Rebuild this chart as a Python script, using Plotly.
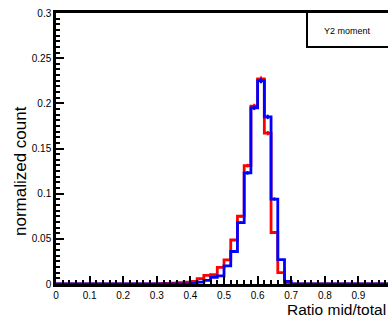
import plotly.graph_objects as go

# bin edges: 0.00 .. 1.00 step 0.02 (50 bins)
bin_lo = [round(0.02 * i, 2) for i in range(50)]
bin_width = 0.02

# red histogram (normalized count), indexed by bin lower edge
red_vals = {0.30: 0.0005, 0.32: 0.0008, 0.34: 0.001, 0.36: 0.0015, 0.38: 0.002,
            0.40: 0.003, 0.42: 0.006, 0.44: 0.0096, 0.46: 0.0103, 0.48: 0.0185,
            0.50: 0.0266, 0.52: 0.0487, 0.54: 0.075, 0.56: 0.131, 0.58: 0.197,
            0.60: 0.227, 0.62: 0.167, 0.64: 0.057, 0.66: 0.0125, 0.68: 0.001}
blue_vals = {0.40: 0.001, 0.42: 0.002, 0.44: 0.004, 0.46: 0.0074, 0.48: 0.0089,
             0.50: 0.020, 0.52: 0.036, 0.54: 0.068, 0.56: 0.123, 0.58: 0.195,
             0.60: 0.225, 0.62: 0.185, 0.64: 0.094, 0.66: 0.027, 0.68: 0.003}
red_err = {0.54: 0.0015, 0.56: 0.002, 0.58: 0.0025, 0.60: 0.0028, 0.62: 0.0024,
           0.64: 0.0014, 0.52: 0.0012, 0.50: 0.001}
blue_err = {0.54: 0.0015, 0.56: 0.002, 0.58: 0.0025, 0.60: 0.0028, 0.62: 0.0025,
            0.64: 0.0018, 0.52: 0.0012, 0.50: 0.001}

red = [red_vals.get(b, 0.0) for b in bin_lo]
blue = [blue_vals.get(b, 0.0) for b in bin_lo]

x_ticks = [0, 0.1, 0.2, 0.3, 0.4, 0.5, 0.6, 0.7, 0.8, 0.9]
x_ticktext = ["0", "0.1", "0.2", "0.3", "0.4", "0.5", "0.6", "0.7", "0.8", "0.9"]
y_ticks = [0, 0.05, 0.1, 0.15, 0.2, 0.25, 0.3]
y_ticktext = ["0", "0.05", "0.1", "0.15", "0.2", "0.25", "0.3"]

edges = bin_lo + [1.0]

fig = go.Figure()
for vals, errs, col in [(red, red_err, "#ff0000"), (blue, blue_err, "#0000ff")]:
    fig.add_trace(go.Scatter(x=edges, y=vals + [vals[-1]], mode="lines",
                             line=dict(color=col, width=2.8, shape="hv"),
                             showlegend=False, hoverinfo="skip"))
    cx = [b + bin_width / 2 for b in bin_lo if b in errs]
    cy = [vals[bin_lo.index(b)] for b in bin_lo if b in errs]
    ce = [errs[b] for b in bin_lo if b in errs]
    fig.add_trace(go.Scatter(x=cx, y=cy, mode="markers",
                             marker=dict(size=1, color=col),
                             error_y=dict(type="data", array=ce, color=col, thickness=2, width=0),
                             showlegend=False, hoverinfo="skip"))

font = "Liberation Sans, Arial, sans-serif"
L, R, T, B = 56, 0, 13, 36
W, H = 388, 320
pw, ph = W - L - R, H - T - B

def px(xp):
    return (xp - L) / pw

def py(yp):
    return (T + ph - yp) / ph

fig.update_layout(
    width=W, height=H, margin=dict(l=L, r=R, t=T, b=B),
    paper_bgcolor="white", plot_bgcolor="white",
    font=dict(family=font, color="black", size=10),
    xaxis=dict(range=[0, 0.988], tickvals=x_ticks, ticktext=x_ticktext,
               ticks="inside", ticklen=8, tickwidth=2, tickcolor="black",
               minor=dict(dtick=0.02, ticks="inside", ticklen=4, tickwidth=2, tickcolor="black"),
               showline=True, linewidth=2.5, linecolor="black", mirror=True,
               showgrid=False, zeroline=False, tickfont=dict(size=10, family=font)),
    yaxis=dict(range=[0, 0.3], tickvals=y_ticks, ticktext=y_ticktext,
               ticks="inside", ticklen=8, tickwidth=2, tickcolor="black",
               minor=dict(dtick=0.00625, ticks="inside", ticklen=4, tickwidth=2, tickcolor="black"),
               showline=True, linewidth=2.5, linecolor="black", mirror=False,
               showgrid=False, zeroline=False, tickfont=dict(size=10, family=font)),
    shapes=[
        dict(type="line", xref="paper", yref="paper",
             x0=px(307), x1=px(307), y0=py(47), y1=py(13),
             line=dict(color="black", width=2)),
        dict(type="line", xref="paper", yref="paper",
             x0=px(306), x1=px(400), y0=py(47), y1=py(47),
             line=dict(color="black", width=2)),
    ],
    annotations=[
        dict(text="normalized count", xref="paper", yref="paper", x=px(20), y=py(171),
             textangle=-90, showarrow=False, xanchor="center", yanchor="middle",
             font=dict(size=17, family=font)),
        dict(text="Ratio mid/total", xref="paper", yref="paper", x=1.0, y=py(309),
             showarrow=False, xanchor="right", yanchor="middle",
             font=dict(size=15.5, family=font)),
        dict(text="Y2 moment", xref="paper", yref="paper", x=px(347), y=py(31),
             showarrow=False, xanchor="center", yanchor="middle",
             font=dict(size=9, family=font)),
    ],
)

fig.write_html("out.html")
